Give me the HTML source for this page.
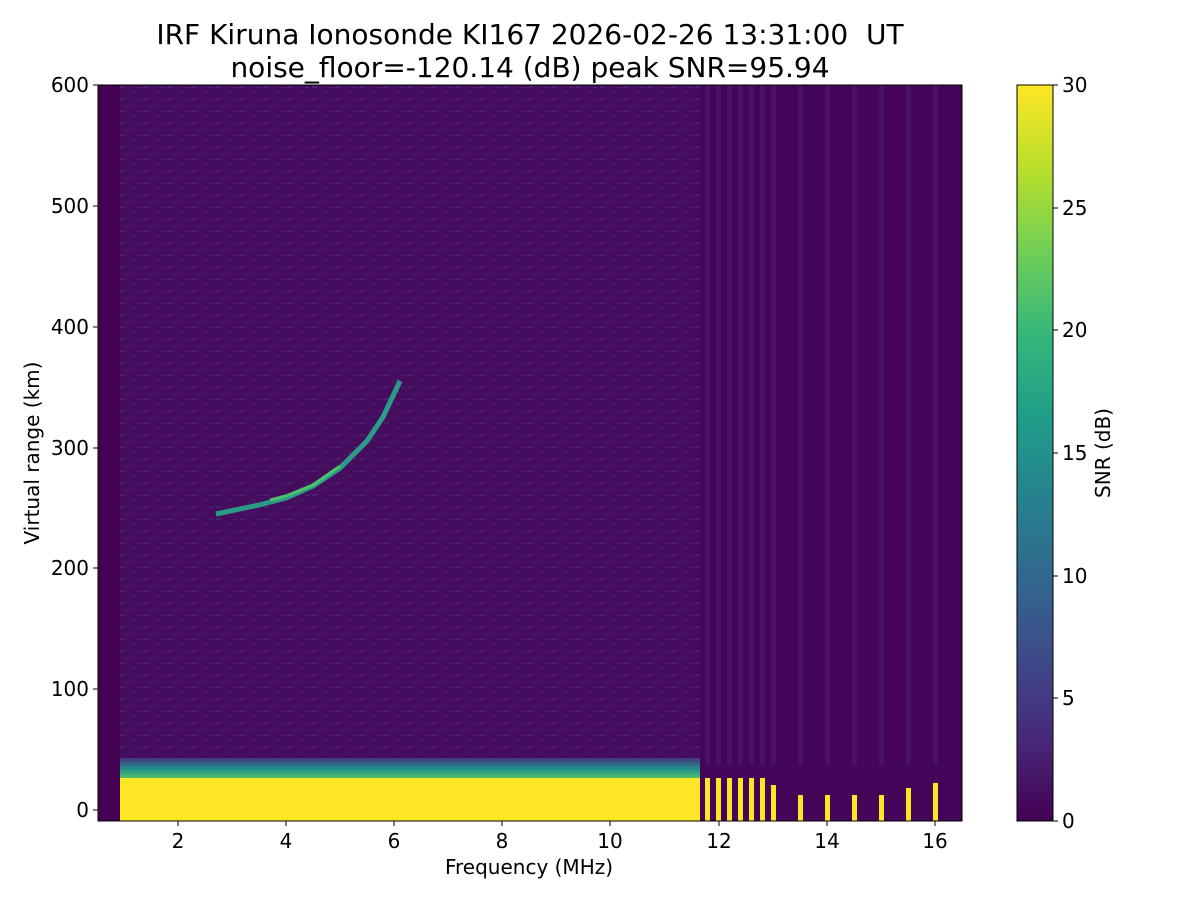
<!DOCTYPE html>
<html><head><meta charset="utf-8"><style>
body{margin:0;background:#fff;}
svg text{font-family:"DejaVu Sans","Liberation Sans",sans-serif;fill:#000;}
</style></head><body>
<svg width="1200" height="900" xmlns="http://www.w3.org/2000/svg">
<defs>
<linearGradient id="vir" x1="0" y1="1" x2="0" y2="0">
<stop offset="0" stop-color="#440154"/><stop offset="0.11" stop-color="#482878"/>
<stop offset="0.22" stop-color="#3e4a89"/><stop offset="0.33" stop-color="#31688e"/>
<stop offset="0.44" stop-color="#26828e"/><stop offset="0.55" stop-color="#1f9e89"/>
<stop offset="0.66" stop-color="#35b779"/><stop offset="0.77" stop-color="#6ece58"/>
<stop offset="0.88" stop-color="#b5de2b"/><stop offset="1" stop-color="#fde725"/>
</linearGradient>
<pattern id="noise" width="24" height="12" patternUnits="userSpaceOnUse">
<rect width="24" height="12" fill="#460c5e"/>
<rect x="0" y="2" width="5" height="2" fill="#482070"/>
<rect x="11" y="7" width="5" height="2" fill="#481a6c"/>
<rect x="17" y="3" width="4" height="1" fill="#472a7a"/>
<rect x="6" y="10" width="4" height="1" fill="#482070"/>
</pattern>
<linearGradient id="fringe" x1="0" y1="0" x2="0" y2="1">
<stop offset="0" stop-color="#46337e"/><stop offset="0.5" stop-color="#21918c"/><stop offset="1" stop-color="#5ec962"/>
</linearGradient>
</defs>
<text x="530" y="44" font-size="28" text-anchor="middle">IRF Kiruna Ionosonde KI167 2026-02-26 13:31:00&#160; UT</text>
<text x="530" y="77" font-size="28" text-anchor="middle">noise_floor=-120.14 (dB) peak SNR=95.94</text>
<rect x="98" y="85" width="864" height="736" fill="#440154"/>
<rect x="120" y="85" width="580" height="736" fill="url(#noise)"/>
<rect x="700" y="85" width="260" height="736" fill="#45065a"/>
<g fill="#471363">
<rect x="705" y="85" width="5" height="680"/><rect x="716" y="85" width="5" height="680"/><rect x="727" y="85" width="5" height="680"/><rect x="738" y="85" width="5" height="680"/><rect x="749" y="85" width="5" height="680"/><rect x="760" y="85" width="5" height="680"/><rect x="771" y="85" width="5" height="680"/><rect x="798" y="85" width="5" height="680"/><rect x="825" y="85" width="5" height="680"/><rect x="852" y="85" width="5" height="680"/><rect x="879" y="85" width="5" height="680"/><rect x="906" y="85" width="5" height="680"/><rect x="933" y="85" width="5" height="680"/>
</g>
<rect x="120" y="758" width="580" height="22" fill="url(#fringe)"/>
<rect x="120" y="778" width="580" height="43" fill="#fde725"/>
<g fill="#fde725">
<rect x="705" y="778" width="5" height="43"/><rect x="716" y="778" width="5" height="43"/><rect x="727" y="778" width="5" height="43"/><rect x="738" y="778" width="5" height="43"/><rect x="749" y="778" width="5" height="43"/><rect x="760" y="778" width="5" height="43"/><rect x="771" y="785" width="5" height="36"/><rect x="798" y="795" width="5" height="26"/><rect x="825" y="795" width="5" height="26"/><rect x="852" y="795" width="5" height="26"/><rect x="879" y="795" width="5" height="26"/><rect x="906" y="788" width="5" height="33"/><rect x="933" y="783" width="5" height="38"/>
</g>
<polyline points="216,514 259,505 286,498 313,486 340,468 367,441 383,417 400,381" fill="none" stroke="#2a9c86" stroke-width="5"/>
<polyline points="270,500 286,496 313,485 340,466" fill="none" stroke="#4cc26c" stroke-width="3"/>
<rect x="98" y="85" width="864" height="736" fill="none" stroke="#000" stroke-width="1"/>
<g stroke="#000">
<line x1="178" y1="821" x2="178" y2="826"/><line x1="286" y1="821" x2="286" y2="826"/><line x1="394" y1="821" x2="394" y2="826"/><line x1="502" y1="821" x2="502" y2="826"/><line x1="610" y1="821" x2="610" y2="826"/><line x1="719" y1="821" x2="719" y2="826"/><line x1="827" y1="821" x2="827" y2="826"/><line x1="935" y1="821" x2="935" y2="826"/>
<line x1="93" y1="810" x2="98" y2="810"/><line x1="93" y1="689" x2="98" y2="689"/><line x1="93" y1="568" x2="98" y2="568"/><line x1="93" y1="448" x2="98" y2="448"/><line x1="93" y1="327" x2="98" y2="327"/><line x1="93" y1="206" x2="98" y2="206"/><line x1="93" y1="85" x2="98" y2="85"/>
</g>
<g font-size="20" text-anchor="middle">
<text x="178" y="848">2</text><text x="286" y="848">4</text><text x="394" y="848">6</text><text x="502" y="848">8</text><text x="610" y="848">10</text><text x="719" y="848">12</text><text x="827" y="848">14</text><text x="935" y="848">16</text>
<text x="529" y="874">Frequency (MHz)</text>
</g>
<g font-size="20" text-anchor="end">
<text x="89" y="817">0</text><text x="89" y="696">100</text><text x="89" y="575">200</text><text x="89" y="455">300</text><text x="89" y="334">400</text><text x="89" y="213">500</text><text x="89" y="92">600</text>
</g>
<text transform="translate(39,453) rotate(-90)" font-size="20" text-anchor="middle">Virtual range (km)</text>
<rect x="1017" y="85" width="36" height="736" fill="url(#vir)" stroke="#000" stroke-width="1"/>
<g stroke="#000">
<line x1="1053" y1="821" x2="1058" y2="821"/><line x1="1053" y1="698" x2="1058" y2="698"/><line x1="1053" y1="576" x2="1058" y2="576"/><line x1="1053" y1="453" x2="1058" y2="453"/><line x1="1053" y1="330" x2="1058" y2="330"/><line x1="1053" y1="208" x2="1058" y2="208"/><line x1="1053" y1="85" x2="1058" y2="85"/>
</g>
<g font-size="20">
<text x="1062" y="828">0</text><text x="1062" y="705">5</text><text x="1062" y="583">10</text><text x="1062" y="460">15</text><text x="1062" y="337">20</text><text x="1062" y="215">25</text><text x="1062" y="92">30</text>
</g>
<text transform="translate(1110,453) rotate(-90)" font-size="20" text-anchor="middle">SNR (dB)</text>
</svg>
</body></html>
